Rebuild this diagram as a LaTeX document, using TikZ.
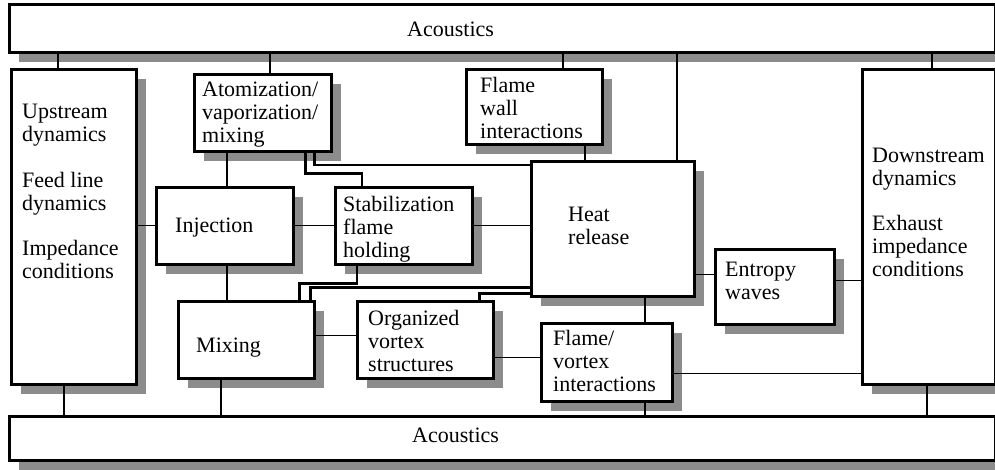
\documentclass[tikz,border=0pt]{standalone}
\usepackage{fontspec}
\setmainfont{Liberation Serif}
\usetikzlibrary{calc,shadows}
\definecolor{shadegray}{gray}{0.55}
\tikzstyle{block} = [draw, line width=2.6pt, fill=white, inner sep=0pt, anchor=north west, general shadow={fill=shadegray, shadow xshift=10pt, shadow yshift=-10pt}]
\tikzstyle{txt} = [anchor=north west, inner sep=0pt, align=left, font=\fontsize{22}{23}\selectfont]
\tikzstyle{line} = [draw, line width=1.2pt]
\tikzstyle{route} = [draw, line width=2.6pt, line join=miter]

\begin{document}
\begin{tikzpicture}[x=1pt, y=-1pt]
      \useasboundingbox (0,0) rectangle (995,469);
      \node [block, minimum width=986, minimum height=48] (top) at (8,3) {};
      \node [block, minimum width=125, minimum height=315] (up) at (10,68) {};
      \node [block, minimum width=137, minimum height=77] (atom) at (193,73) {};
      \node [block, minimum width=136, minimum height=75] (wall) at (465,68) {};
      \node [block, minimum width=163, minimum height=135] (heat) at (530,160) {};
      \node [block, minimum width=133, minimum height=315] (down) at (861,68) {};
      \node [block, minimum width=137, minimum height=77] (inj) at (155,186) {};
      \node [block, minimum width=137, minimum height=77] (stab) at (334,186) {};
      \node [block, minimum width=136, minimum height=77] (mix) at (177,300) {};
      \node [block, minimum width=136, minimum height=77] (vortex) at (356,300) {};
      \node [block, minimum width=131, minimum height=78] (fv) at (540,322) {};
      \node [block, minimum width=119, minimum height=75] (ent) at (714,248) {};
      \node [block, minimum width=986, minimum height=44] (bot) at (8,415) {};

      \node [txt] (toptxt) at ([shift={(399,19)}]top.north west) {Acoustics};
      \node [txt] (uptxt) at ([shift={(12,36)}]up.north west) {Upstream\\dynamics\\[23pt]Feed line\\dynamics\\[22pt]Impedance\\conditions};
      \node [txt] (atomtxt) at ([shift={(9,9)}]atom.north west) {Atomization/\\vaporization/\\mixing};
      \node [txt] (walltxt) at ([shift={(15,9)}]wall.north west) {Flame\\wall\\interactions};
      \node [txt] (heattxt) at ([shift={(38,47)}]heat.north west) {Heat\\release};
      \node [txt] (downtxt) at ([shift={(11,80)}]down.north west) {Downstream\\dynamics\\[22pt]Exhaust\\impedance\\conditions};
      \node [txt] (injtxt) at ([shift={(20,32)}]inj.north west) {Injection};
      \node [txt] (stabtxt) at ([shift={(9,10)}]stab.north west) {Stabilization\\flame\\holding};
      \node [txt] (mixtxt) at ([shift={(19,38)}]mix.north west) {Mixing};
      \node [txt] (vortextxt) at ([shift={(12,10)}]vortex.north west) {Organized\\vortex\\structures};
      \node [txt] (fvtxt) at ([shift={(13,8)}]fv.north west) {Flame/\\vortex\\interactions};
      \node [txt] (enttxt) at ([shift={(11,14)}]ent.north west) {Entropy\\waves};
      \node [txt] (bottxt) at ([shift={(404,13)}]bot.north west) {Acoustics};

      \path [line] ([xshift=48pt]up.north west) coordinate (c1) -- (c1 |- top.south);
      \path [line] ([xshift=77pt]atom.north west) coordinate (c2) -- (c2 |- top.south);
      \path [line] ([xshift=98pt]wall.north west) coordinate (c3) -- (c3 |- top.south);
      \path [line] ([xshift=147pt]heat.north west) coordinate (c4) -- (c4 |- top.south);
      \path [line] ([xshift=71pt]down.north west) coordinate (c5) -- (c5 |- top.south);
      \path [line] ([xshift=34pt]atom.south west) coordinate (c6) -- (c6 |- inj.north);
      \path [line] ([xshift=120pt]wall.south west) coordinate (c7) -- (c7 |- heat.north);
      \path [line] ([xshift=72pt]inj.south west) coordinate (c8) -- (c8 |- mix.north);
      \path [line] ([xshift=115pt]heat.south west) coordinate (c9) -- (c9 |- fv.north);
      \path [line] (inj.west) -- (inj.west -| up.east);
      \path [line] (inj.east) -- (stab.west);
      \path [line] (stab.east) -- (stab.east -| heat.west);
      \path [line] ([yshift=4pt]mix.east) coordinate (c10) -- (c10 -| vortex.west);
      \path [line] ([yshift=5pt]fv.west) coordinate (c11) -- (c11 -| vortex.east);
      \path [line] ([yshift=12pt]ent.west) coordinate (c12) -- (c12 -| heat.east);
      \path [line] ([yshift=6pt]ent.east) coordinate (c13) -- (c13 -| down.west);
      \path [line] ([yshift=-11pt]fv.east) coordinate (c14) -- (c14 -| down.west);
      \path [line] ([xshift=54pt]up.south west) coordinate (c15) -- (c15 |- bot.north);
      \path [line] ([xshift=44pt]mix.south west) coordinate (c16) -- (c16 |- bot.north);
      \path [line] ([xshift=105pt]fv.south west) coordinate (c17) -- (c17 |- bot.north);
      \path [line] ([xshift=66pt]down.south west) coordinate (c18) -- (c18 |- bot.north);

      \path [route] ([xshift=-27pt]atom.south east) -- ++(0,21) -| ([xshift=28pt]stab.north west);
      \path [route] ([xshift=-18pt]atom.south east) |- ([yshift=-5pt]heat.north west);
      \path [route] ([xshift=23pt]stab.south west) -- ++(0,18) -| ([xshift=-16pt]mix.north east);
      \path [route] ([xshift=-5pt]mix.north east) |- ([yshift=10pt]heat.south west);
      \path [route] ([xshift=-15pt]vortex.north east) |- ([yshift=4pt]heat.south west);
\end{tikzpicture}
\end{document}
